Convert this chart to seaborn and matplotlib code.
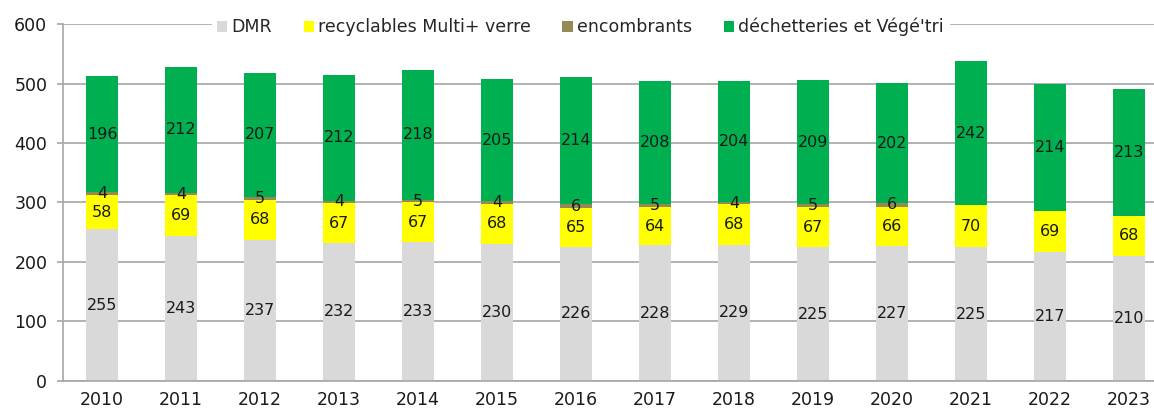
import numpy as np
import pandas as pd
import seaborn as sns
import matplotlib
matplotlib.use("Agg")
import matplotlib.pyplot as plt

sns.set_style("white")
plt.rcParams['font.family'] = ['DejaVu Sans']

years = ["2010", "2011", "2012", "2013", "2014", "2015", "2016",
         "2017", "2018", "2019", "2020", "2021", "2022", "2023"]
dmr = [255, 243, 237, 232, 233, 230, 226, 228, 229, 225, 227, 225, 217, 210]
recyclables = [58, 69, 68, 67, 67, 68, 65, 64, 68, 67, 66, 70, 69, 68]
encombrants = [4, 4, 5, 4, 5, 4, 6, 5, 4, 5, 6, 0, 0, 0]
decheteries = [196, 212, 207, 212, 218, 205, 214, 208, 204, 209, 202, 242, 214, 213]

series = [
    ("DMR", dmr, "#D9D9D9"),
    ("recyclables Multi+ verre", recyclables, "#FFFF00"),
    ("encombrants", encombrants, "#948A54"),
    ("déchetteries et Végé'tri", decheteries, "#00B050"),
]

fig = plt.figure(figsize=(11.54, 4.11), dpi=100)
ax = fig.add_axes([0.0542, 0.073, 0.9584, 0.8686])

bottom = np.zeros(len(years))
for name, values, color in series:
    df = pd.DataFrame({"Year": years, "Value": values})
    sns.barplot(data=df, x="Year", y="Value", color=color, width=0.4,
                bottom=bottom, label=name, linewidth=0, saturation=1, ax=ax)
    labels = [str(v) if v > 0 else "" for v in values]
    ax.bar_label(ax.containers[-1], labels=labels, label_type="center",
                 fontsize=11.5, color="#1a1a1a")
    bottom = bottom + np.array(values)

ax.set_ylim(0, 600)
ax.set_xlim(-0.5, len(years) - 0.5)
ax.set_yticks(range(0, 601, 100))
ax.set_xlabel("")
ax.set_ylabel("")

ax.set_axisbelow(True)
ax.yaxis.grid(True, color="#A6A6A6", linewidth=1.2)
ax.xaxis.grid(False)

for side in ["top", "right"]:
    ax.spines[side].set_visible(False)
for side in ["left", "bottom"]:
    ax.spines[side].set_color("#A6A6A6")
    ax.spines[side].set_linewidth(1.2)

ax.set_xticks(np.arange(-0.5, len(years), 1.0), minor=True)
ax.tick_params(axis="x", which="major", length=0, pad=7.5, labelsize=12.5, colors="#1a1a1a")
ax.tick_params(axis="x", which="minor", length=5, width=1.2, color="#A6A6A6", direction="out")
ax.tick_params(axis="y", length=4, width=1.2, color="#A6A6A6", direction="out",
               pad=7, labelsize=12.5, labelcolor="#1a1a1a")
ax.tick_params(axis="y", left=True)

handles, leg_labels = ax.get_legend_handles_labels()
if ax.get_legend() is not None:
    ax.get_legend().remove()
fig.legend(handles, leg_labels, loc="center", bbox_to_anchor=(0.503, 0.934), ncol=4,
           frameon=True, facecolor="white", edgecolor="white", framealpha=1,
           fontsize=12.5, handlelength=0.6, handleheight=0.6, handletextpad=0.25,
           columnspacing=1.8, borderpad=0.3, fancybox=False)

fig.savefig("out.png", dpi=100)
